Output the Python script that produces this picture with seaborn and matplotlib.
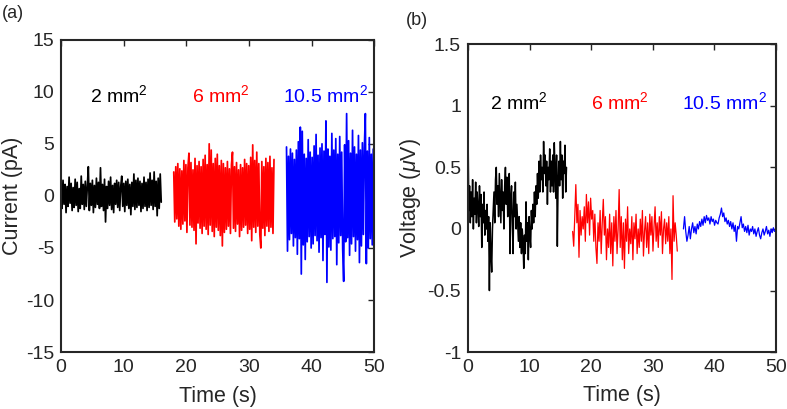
import numpy as np
import pandas as pd
import matplotlib
matplotlib.use('Agg')
import matplotlib.pyplot as plt
import seaborn as sns

sns.set_style("white")
plt.rcParams['font.family'] = ['Liberation Sans', 'DejaVu Sans']
plt.rcParams['mathtext.fontset'] = 'custom'
plt.rcParams['mathtext.rm'] = 'Liberation Sans'
plt.rcParams['mathtext.it'] = 'Liberation Sans:italic'

# ---- panel (a): current traces (pA) ----
t_range_a = {'2 mm2': (0, 16), '6 mm2': (18, 34), '10.5 mm2': (36, 50)}

cur_2mm = [0.6, -1.2, 1.5, -0.8, 1.1, -1.6, 0.9, -1.0, 1.8, -0.7,
           1.2, -1.4, 0.8, -1.1, 1.6, -0.9, 1.3, -1.5, 0.7, -1.2,
           1.9, -0.8, 1.1, -1.3, 1.4, -1.0, 0.9, 2.8, -1.4, 1.2,
           -0.9, 1.5, -1.6, 1.0, -1.1, 1.7, -0.8, 1.3, -1.2, 2.7,
           -1.0, 1.1, -1.4, 1.6, -2.5, 0.9, -1.2, 1.4, -0.9, 1.8,
           -1.3, 1.0, -1.6, 1.2, -0.8, 1.5, -1.1, 1.3, -1.4, 0.9,
           1.9, -1.0, 1.2, -1.5, 1.4, -0.9, 1.6, -1.2, 1.1, -1.8,
           1.3, -1.0, 2.1, -1.3, 1.5, -1.1, 1.7, -0.9, 1.4, -1.5,
           1.2, -1.2, 1.8, -1.0, 1.3, -1.4, 1.6, -1.1, 2.2, -0.9,
           1.5, -1.3, 2.3, -1.0, 1.4, -1.9, 1.7, -1.2, 2.1, -0.6]

cur_6mm = [2.3, -2.5, 2.8, -2.2, 3.1, -2.9, 2.6, -3.2, 2.4, -2.7,
           3.4, -2.4, 3.0, -3.5, 2.7, 4.1, -2.8, 3.2, -3.0, 2.5,
           -3.3, 3.6, -4.6, 2.9, -2.6, 3.3, -3.1, 2.8, -3.6, 3.5,
           -2.9, 3.9, -3.2, 3.0, -3.7, 5.0, -2.8, 4.4, -3.4, 3.1,
           -3.9, 3.6, -3.0, 4.0, -3.3, 2.9, -3.8, 3.4, -4.8, 3.1,
           -3.5, 2.7, -3.2, 3.3, -2.9, 2.6, -3.6, 3.0, 4.2, -3.1,
           2.8, -3.4, 3.2, -2.7, 2.5, -3.9, 3.0, -3.3, 2.7, -3.0,
           3.5, -2.8, 3.1, -3.6, 2.9, -3.2, 3.7, -4.3, 4.9, -3.0,
           3.4, -3.5, 4.2, -2.9, 3.1, -3.7, -5.0, 3.3, -3.1, 2.8,
           -3.8, 3.6, -2.9, 3.2, -3.4, 3.8, -3.0, 2.7, -3.6, 3.5]

cur_10mm = [4.7, -5.3, 3.8, -4.2, 4.5, -3.6, 4.1, -4.8, 3.5, -4.0,
            4.4, -5.6, 5.2, -4.1, 6.6, -7.5, 6.2, -4.7, 4.0, -6.1,
            3.6, -4.4, 5.4, -3.9, 4.2, -5.0, 3.7, -4.6, 4.8, -3.8,
            5.9, -4.3, 3.9, -5.4, 4.6, -4.0, 5.0, -6.2, 4.3, -3.7,
            7.2, -8.3, 4.5, -4.9, 3.8, -5.2, 6.0, -4.1, 4.4, -3.9,
            5.5, -6.6, 4.0, -4.5, 5.7, -3.8, 4.2, -5.1, -8.2, 4.9,
            -4.4, 7.9, -4.0, 5.3, -5.7, 4.1, -4.6, 6.3, -3.9, 4.7,
            -5.3, 4.0, -4.2, 5.8, -6.4, 4.4, -4.8, 5.1, -3.7, 4.6,
            7.9, -6.5, 4.3, -5.0, 5.6, -4.1, 4.0, -4.7, 4.5, -3.8]

# ---- panel (b): voltage traces (uV) ----
t_range_b = {'2 mm2': (0, 16), '6 mm2': (17, 34), '10.5 mm2': (35, 49.8)}

volt_2mm = [0.8, 0.15, 0.35, 0.05, 0.3, 0.1, 0.4, 0.0, 0.25, 0.12,
            0.38, 0.05, 0.3, 0.18, 0.02, 0.35, 0.1, 0.28, -0.15, 0.2,
            0.05, 0.3, -0.05, 0.15, 0.0, 0.2, -0.1, 0.1, -0.5, 0.05,
            -0.2, -0.35, 0.0, 0.15, 0.3, 0.05, 0.4, 0.5, 0.2, 0.35,
            0.1, 0.45, 0.25, 0.05, 0.4, 0.15, 0.3, 0.0, 0.35, 0.5,
            0.2, 0.42, 0.1, 0.3, 0.45, -0.2, 0.25, 0.35, 0.05, -0.2,
            0.3, 0.1, 0.38, 0.0, 0.2, 0.05, -0.1, 0.1, -0.15, 0.05,
            -0.2, 0.0, -0.1, -0.32, -0.05, -0.2, 0.22, -0.1, 0.05, -0.25,
            0.1, -0.05, -0.15, 0.15, 0.0, 0.2, 0.05, 0.3, 0.1, 0.35,
            0.2, 0.45, 0.25, 0.55, 0.3, 0.6, 0.4, 0.5, 0.3, 0.71,
            0.45, 0.6, 0.35, 0.55, 0.2, 0.5, 0.4, 0.65, 0.3, 0.55,
            0.35, 0.6, 0.3, 0.7, 0.45, 0.25, 0.6, -0.14, 0.4, 0.55,
            0.35, 0.71, 0.4, 0.6, 0.25, 0.55, 0.45, 0.68, 0.3, 0.5]

volt_6mm = [-0.02, -0.14, 0.1, 0.36, 0.05, 0.2, -0.23, 0.15, -0.05, 0.1,
            0.0, 0.18, -0.1, 0.28, 0.05, 0.22, -0.05, 0.25, 0.08, 0.15,
            -0.1, 0.12, -0.15, -0.28, 0.05, -0.1, 0.15, -0.2, 0.05, 0.24,
            -0.05, 0.1, -0.25, 0.0, -0.15, 0.12, -0.2, 0.05, -0.3, 0.1,
            -0.1, 0.15, -0.2, 0.0, 0.32, -0.15, 0.1, -0.25, 0.05, -0.32,
            0.08, -0.1, 0.18, -0.2, 0.0, -0.12, 0.1, -0.25, 0.05, -0.08,
            0.12, -0.2, 0.0, -0.15, 0.08, -0.1, 0.15, -0.22, -0.02, 0.1,
            -0.15, 0.05, -0.2, 0.12, -0.05, 0.1, -0.18, 0.02, 0.18, -0.1,
            0.05, -0.15, 0.1, -0.05, 0.14, -0.2, 0.0, 0.08, -0.12, 0.05,
            -0.1, 0.1, -0.2, 0.0, -0.41, 0.27, -0.1, 0.05, -0.05, -0.18]

volt_10mm = [0.0, 0.1, -0.02, -0.1, -0.05, 0.02, -0.08, 0.0, 0.05, -0.03,
             0.02, -0.04, 0.04, 0.0, 0.06, 0.02, 0.08, 0.03, 0.1, 0.05,
             0.11, 0.07, 0.09, 0.04, 0.1, 0.06, 0.08, 0.03, 0.07, 0.05,
             0.04, 0.09, 0.12, 0.17, 0.1, 0.13, 0.06, 0.09, 0.04, 0.07,
             0.02, 0.06, 0.0, 0.05, -0.02, 0.03, -0.1, 0.02, 0.0, 0.05,
             0.1, 0.01, 0.04, -0.02, 0.02, -0.03, 0.03, -0.05, 0.0, -0.02,
             0.02, -0.04, 0.0, -0.06, -0.02, 0.01, -0.05, -0.08, -0.03, 0.0,
             -0.05, -0.02, 0.02, -0.04, -0.01, -0.06, 0.0, -0.03, 0.01, -0.02]

areas = ['2 mm2', '6 mm2', '10.5 mm2']
area_labels = ['2 mm$^2$', '6 mm$^2$', '10.5 mm$^2$']
colors = ['black', '#ff0000', '#0000ff']
label_x_a = [9.2, 25.5, 42.2]
label_x_b = [8.3, 24.7, 41.7]


def build_frame(ranges, series):
    parts = []
    for area, vals in zip(areas, series):
        t0, t1 = ranges[area]
        parts.append(pd.DataFrame({'time': np.linspace(t0, t1, len(vals)),
                                   'value': vals, 'area': area}))
    return pd.concat(parts, ignore_index=True)


df_a = build_frame(t_range_a, [cur_2mm, cur_6mm, cur_10mm])
df_b = build_frame(t_range_b, [volt_2mm, volt_6mm, volt_10mm])


def style_axes(ax):
    ax.tick_params(direction='in', top=True, right=True, length=4,
                   width=1.0, labelsize=14, pad=5, color='#262626')
    for sp in ax.spines.values():
        sp.set_linewidth(1.5)
        sp.set_color('#262626')
    ax.set_xlim(0, 50)
    ax.set_xticks([0, 10, 20, 30, 40, 50])


fig = plt.figure(figsize=(7.87, 4.09), dpi=100)
ax_a = fig.add_axes([0.0775, 0.139, 0.398, 0.764])
ax_b = fig.add_axes([0.5947, 0.139, 0.391, 0.753])

for area, col in zip(areas, colors):
    sub = df_a[df_a['area'] == area]
    sns.lineplot(data=sub, x='time', y='value', color=col, linewidth=1.25,
                 estimator=None, sort=False, ax=ax_a)
    sub = df_b[df_b['area'] == area]
    sns.lineplot(data=sub, x='time', y='value', color=col,
                 linewidth=1.1 if area == '2 mm2' else 0.9,
                 estimator=None, sort=False, ax=ax_b)

style_axes(ax_a)
ax_a.set_ylim(-15, 15)
yt_a = [-15, -10, -5, 0, 5, 10, 15]
ax_a.set_yticks(yt_a)
ax_a.set_yticklabels([str(v) for v in yt_a])
ax_a.set_xlabel('Time (s)', fontsize=15.5)
ax_a.set_ylabel('Current (pA)', fontsize=15.5)
ax_a.xaxis.set_label_coords(0.5, -0.108)
ax_a.yaxis.set_label_coords(-0.121, 0.5)
for lbl, xx, col in zip(area_labels, label_x_a, colors):
    ax_a.text(xx, 9.7, lbl, color=col, fontsize=14, ha='center', va='center')

style_axes(ax_b)
ax_b.set_ylim(-1, 1.5)
yt_b = [-1, -0.5, 0, 0.5, 1, 1.5]
ax_b.set_yticks(yt_b)
ax_b.set_yticklabels(['-1', '-0.5', '0', '0.5', '1', '1.5'])
ax_b.set_xlabel('Time (s)', fontsize=15.5)
ax_b.set_ylabel('Voltage ($\\mu$V)', fontsize=15.5)
ax_b.xaxis.set_label_coords(0.5, -0.108)
ax_b.yaxis.set_label_coords(-0.146, 0.5)
for lbl, xx, col in zip(area_labels, label_x_b, colors):
    ax_b.text(xx, 1.03, lbl, color=col, fontsize=14, ha='center', va='center')

fig.text(0.002, 0.968, '(a)', fontsize=13, va='center', ha='left')
fig.text(0.516, 0.951, '(b)', fontsize=13, va='center', ha='left')

fig.savefig('out.png', dpi=100)
plt.close(fig)
